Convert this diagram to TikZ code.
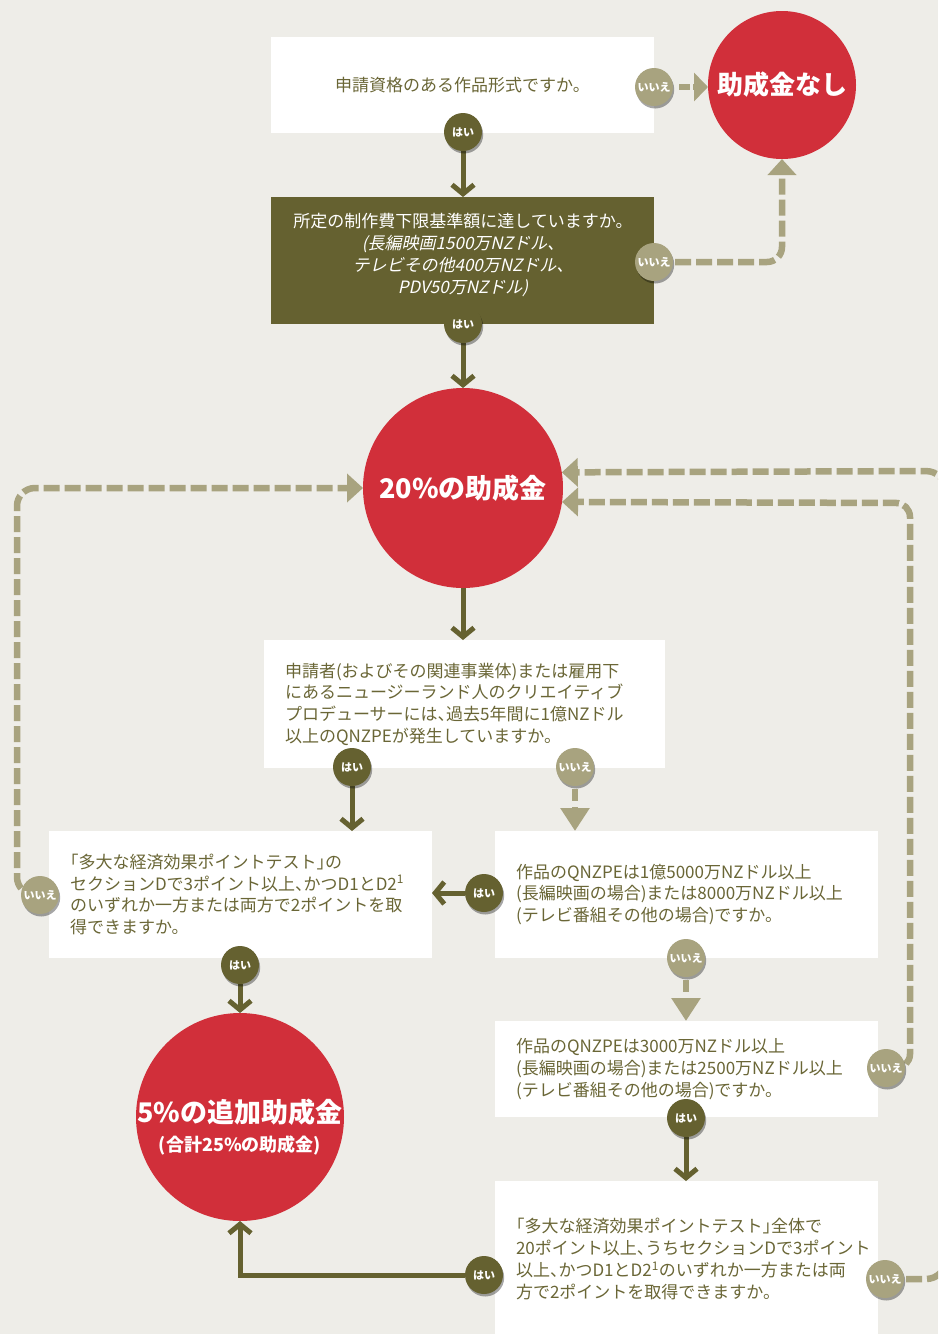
\documentclass[tikz,border=0pt]{standalone}
\usepackage{fontspec}
\setmainfont{Noto Sans CJK JP}[ItalicFont={Noto Sans CJK JP}, ItalicFeatures={FakeSlant=0.22}]
\newfontfamily\halffont{Noto Sans CJK JP}[RawFeature=+halt]
\newcommand\hpunct[1]{{\halffont #1}}
\usetikzlibrary{arrows.meta,shadows}
\pgfdeclarelayer{front}
\pgfsetlayers{main,front}
\definecolor{mybg}{HTML}{EEEDE8}
\definecolor{myolive}{HTML}{656130}
\definecolor{mysage}{HTML}{A8A37F}
\definecolor{myred}{HTML}{D12F3A}
\definecolor{mytext}{HTML}{6A6636}
\begin{document}
\begin{tikzpicture}[x=1pt,y=-1pt,
 boxn/.style={fill=white, anchor=north west, inner xsep=21pt, inner ysep=0pt, outer sep=0pt, align=left, text=mytext, font=\fontsize{17}{21.7}\selectfont},
 yesb/.style={circle, fill=myolive, minimum size=38pt, inner sep=0pt, outer sep=0pt, text=white, font=\bfseries\fontsize{11}{11}\selectfont, drop shadow={shadow xshift=1.2pt, shadow yshift=-2.5pt, fill=black, opacity=0.35}},
 nob/.style={yesb, fill=mysage},
 bigc/.style={circle, fill=myred, inner sep=0pt, outer sep=0pt, text=white},
 okarrow/.style={draw=myolive, line width=5pt, -{Straight Barb[length=9pt,width=22pt]}},
 noarrow/.style={draw=mysage, line width=6.5pt, dash pattern=on 16pt off 5pt, -{Triangle[length=16pt,width=28pt]}},
 noshort/.style={draw=mysage, line width=6.5pt, dash pattern=on 12pt off 6pt, shorten <=3pt, -{Triangle[length=23pt,width=28pt]}},
 noside/.style={draw=mysage, line width=6.5pt, dash pattern=on 11pt off 3pt, shorten <=6pt, -{Triangle[length=14pt,width=28pt]}},
]
\useasboundingbox (0,0) rectangle (938,1334);
\clip (0,0) rectangle (938,1334);
\fill[mybg] (0,0) rectangle (938,1334);

% boxes
\node[boxn, align=center, text width=341pt, minimum height=96pt] (box1) at (271,37) {申請資格のある作品形式ですか。};
\node[fill=myolive, anchor=north west, minimum width=383pt, minimum height=127pt, inner sep=0pt, outer sep=0pt] (box2) at (271,197) {};
\node[text=white, align=center, font=\fontsize{17}{21.7}\selectfont] (box2t) at (463,255) {所定の制作費下限基準額に達していますか。\\{\itshape (長編映画1500万NZドル、}\\{\itshape テレビその他400万NZドル、}\\{\itshape PDV50万NZドル)}};
\node[boxn, text width=359pt, minimum height=128pt] (box3) at (264,640) {申請者(およびその関連事業体)または雇用下\\にあるニュージーランド人のクリエイティブ\\プロデューサーには\hpunct{、}過去5年間に1億NZドル\\以上のQNZPEが発生していますか。};
\node[boxn, text width=341pt, minimum height=127pt] (box4) at (49,831) {\hpunct{「}多大な経済効果ポイントテスト\hpunct{」}の\\セクションDで3ポイント以上\hpunct{、}かつD1とD2\textsuperscript{1}\\のいずれか一方または両方で2ポイントを取\\得できますか。};
\node[boxn, text width=341pt, minimum height=127pt] (box5) at (495,831) {作品のQNZPEは1億5000万NZドル以上\\(長編映画の場合)または8000万NZドル以上\\(テレビ番組その他の場合)ですか。};
\node[boxn, text width=341pt, minimum height=96pt] (box6) at (495,1021) {作品のQNZPEは3000万NZドル以上\\(長編映画の場合)または2500万NZドル以上\\(テレビ番組その他の場合)ですか。};
\node[boxn, text width=341pt, minimum height=156pt] (box7) at (495,1181) {\hpunct{「}多大な経済効果ポイントテスト\hpunct{」}全体で\\20ポイント以上\hpunct{、}うちセクションDで3ポイント\\以上\hpunct{、}かつD1とD2\textsuperscript{1}のいずれか一方または両\\方で2ポイントを取得できますか。};

\begin{pgfonlayer}{front}
\node[bigc, minimum size=148pt, font=\bfseries\fontsize{26}{26}\selectfont] (nashi) at (782,85) {助成金なし};
\node[bigc, minimum size=200pt, font=\bfseries\fontsize{27}{27}\selectfont] (c20) at (463,488) {20\%の助成金};
\node[bigc, minimum size=208pt] (c5) at (240,1117) {};
\node[text=white, font=\bfseries\fontsize{27}{27}\selectfont] (c5a) at (240,1112) {5\%の追加助成金};
\node[text=white, font=\bfseries\fontsize{18}{18}\selectfont] (c5b) at (240,1145) {(合計25\%の助成金)};

\node[nob] (b1no) at (654,87) {いいえ};
\node[yesb] (b1yes) at (463,132) {はい};
\node[nob] (b2no) at (654,262) {いいえ};
\node[yesb] (b2yes) at (463,324) {はい};
\node[yesb] (b3yes) at (352,767) {はい};
\node[nob] (b3no) at (575,767) {いいえ};
\node[nob] (b4no) at (40,895) {いいえ};
\node[yesb] (b5yes) at (484,893) {はい};
\node[yesb] (b4yes) at (240,965) {はい};
\node[nob] (b5no) at (686,958) {いいえ};
\node[nob] (b6no) at (886,1068) {いいえ};
\node[yesb] (b6yes) at (686,1118) {はい};
\node[yesb] (b7yes) at (484,1275) {はい};
\node[nob] (b7no) at (885,1279) {いいえ};
\end{pgfonlayer}

\coordinate (lc) at (17,895);
\coordinate (r1) at (910,503);
\coordinate (r2) at (946,471);

% yes connectors
\draw[okarrow] (b1yes) -- (b1yes |- box2.north);
\draw[okarrow] (b2yes) -- (c20);
\draw[okarrow] (c20) -- (c20 |- box3.north);
\draw[okarrow] (b3yes) -- (b3yes |- box4.north);
\draw[okarrow] (b5yes) -- (b5yes -| box4.east);
\draw[okarrow] (b4yes) -- (c5);
\draw[okarrow] (b6yes) -- (b6yes |- box7.north);
\draw[okarrow] (b7yes) -| (c5);

% no connectors
\draw[noside] (b1no) -- (b1no -| nashi.west);
\draw[noarrow, rounded corners=15pt] (b2no.center) -| (nashi);
\draw[noshort] (b3no) -- (b3no |- box5.north);
\draw[noshort] (b5no) -- (b5no |- box6.north);
\draw[noarrow, rounded corners=18pt] (b4no.center) -- (lc) |- (c20);
\draw[noarrow, rounded corners=14pt] (b6no.center) -| (r1) -- (c20.-8.6);
\draw[noarrow, rounded corners=20pt] (b7no.center) -| (r2) -- (c20.9.8);
\end{tikzpicture}
\end{document}
